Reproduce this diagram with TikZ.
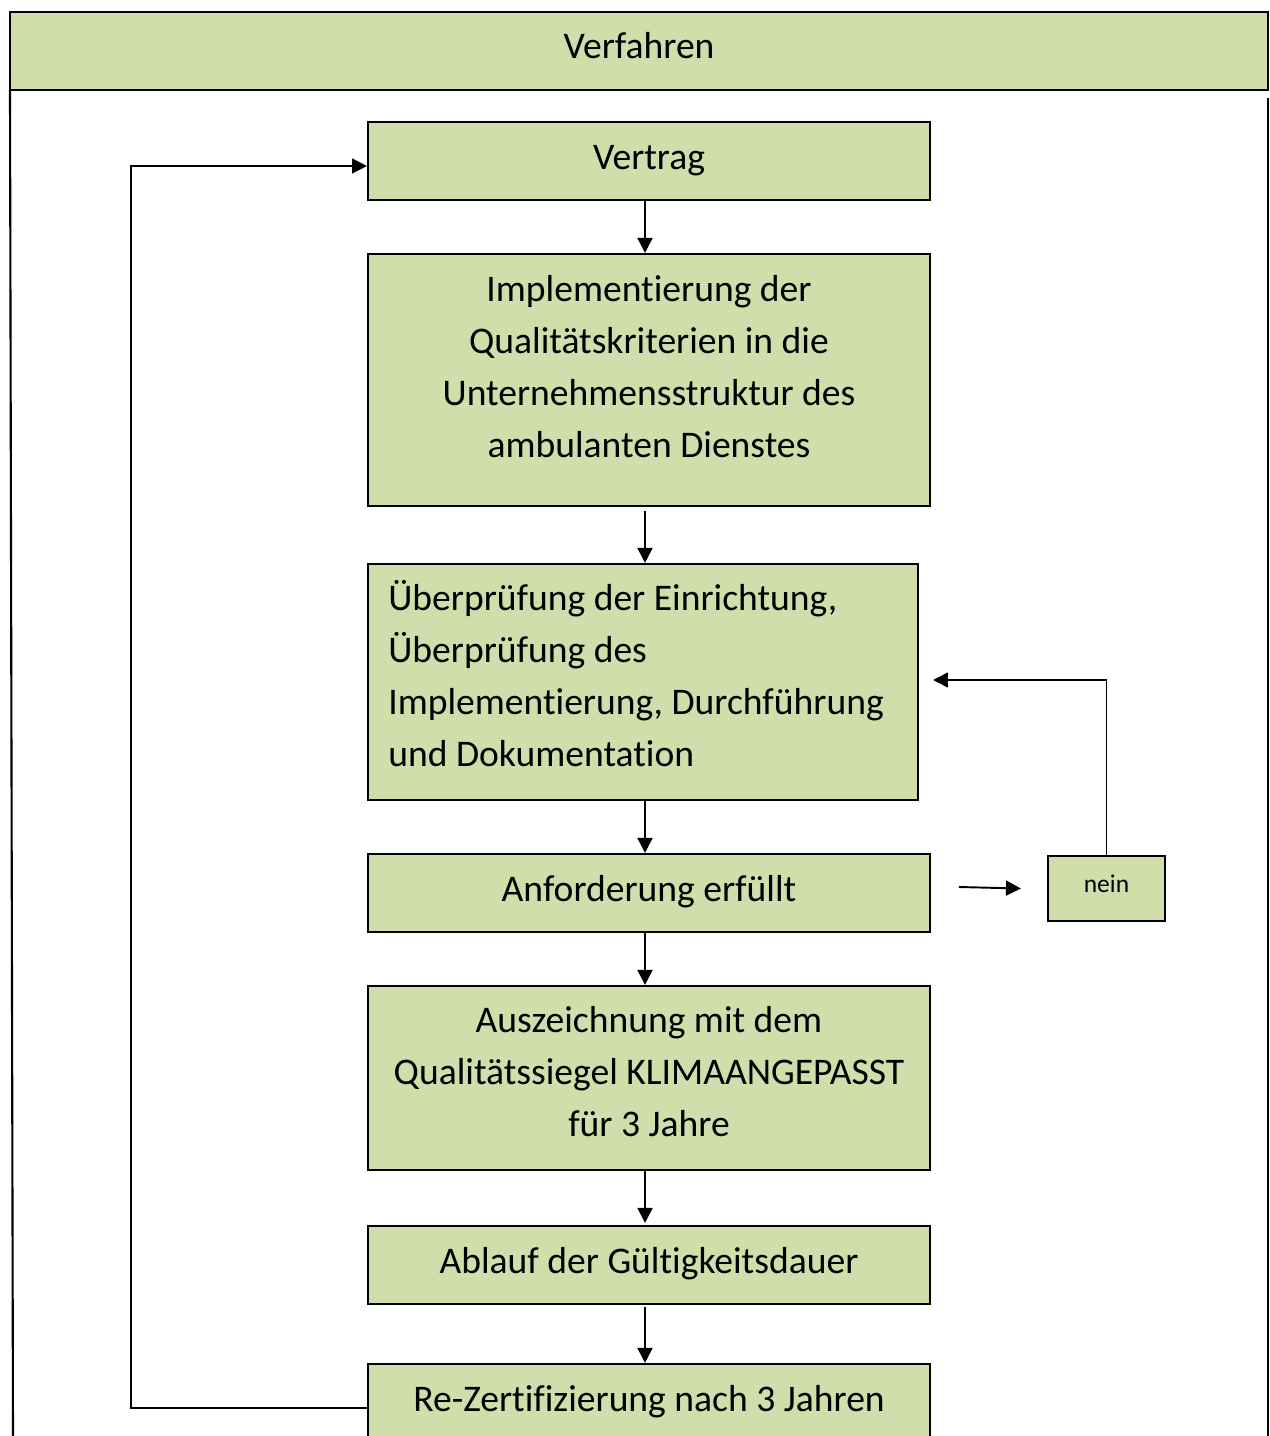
\documentclass[tikz,border=0pt]{standalone}
\usepackage{fontspec}
\setmainfont{Carlito}[Ligatures={NoCommon}]
\usetikzlibrary{arrows.meta}
\definecolor{boxgreen}{HTML}{D0DEAC}
\begin{document}
\begin{tikzpicture}[x=0.02cm,y=-0.02cm,
  box/.style={draw=black, line width=1.25pt, fill=boxgreen, inner sep=0pt},
  txt/.style={inner sep=0pt, font=\fontsize{21.4}{29.6}\selectfont, align=center},
  arr/.style={line width=1.1pt, -{Triangle[length=8.5pt,width=8.5pt]}},
  plain/.style={line width=1.2pt}]
\useasboundingbox (0,0) rectangle (1270,1436);

% header and frame
\node[box, minimum width=25.16cm, minimum height=1.56cm] (head) at (639,51) {};
\node[txt] (head-t) at ([yshift=0.1cm]head.center) {Verfahren};
\draw[plain] (10,90) -- (13,1436);
\draw[plain] (1268,98) -- (1268,1436);

% process steps
\node[box, minimum width=11.24cm, minimum height=1.56cm] (vertrag) at (649,161) {};
\node[txt] (vertrag-t) at ([yshift=0.01cm]vertrag.center) {Vertrag};

\node[box, minimum width=11.24cm, minimum height=5.04cm] (impl) at (649,380) {};
\node[txt] (impl-t) at ([yshift=0.26cm]impl.center)
  {Implementierung der\\Qualitätskriterien in die\\Unternehmensstruktur des\\ambulanten Dienstes};

\node[box, minimum width=11cm, minimum height=4.72cm] (ueber) at (643,682) {};
\node[txt, align=left, anchor=west] (ueber-t) at ([xshift=0.42cm, yshift=0.17cm]ueber.west)
  {Überprüfung der Einrichtung,\\Überprüfung des\\Implementierung, Durchführung\\und Dokumentation};

\node[box, minimum width=11.24cm, minimum height=1.56cm] (anf) at (649,893) {};
\node[txt] (anf-t) at ([yshift=0.02cm]anf.center) {Anforderung erfüllt};

\node[box, minimum width=2.34cm, minimum height=1.3cm] (nein) at (1106.5,888.5) {};
\node[txt, font=\fontsize{14.5}{18}\selectfont] (nein-t) at ([yshift=0.09cm]nein.center) {nein};

\node[box, minimum width=11.24cm, minimum height=3.68cm] (ausz) at (649,1078) {};
\node[txt] (ausz-t) at ([yshift=0.12cm]ausz.center)
  {Auszeichnung mit dem\\Qualitätssiegel KLIMAANGEPASST\\für 3 Jahre};

\node[box, minimum width=11.24cm, minimum height=1.56cm] (ablauf) at (649,1265) {};
\node[txt] (ablauf-t) at ([yshift=0.02cm]ablauf.center) {Ablauf der Gültigkeitsdauer};

\node[box, minimum width=11.24cm, minimum height=1.76cm] (rez) at (649,1408) {};
\node[txt] (rez-t) at ([yshift=0.12cm]rez.center) {Re-Zertifizierung nach 3 Jahren};

% connectors
\coordinate (axis) at (645,0);
\draw[arr] (vertrag.south -| axis) -- (impl.north -| axis);
\draw[arr] ([yshift=-0.08cm]impl.south -| axis) -- (ueber.north -| axis);
\draw[arr] (ueber.south -| axis) -- (anf.north -| axis);
\draw[arr] (anf.south -| axis) -- (ausz.north -| axis);
\draw[arr] (ausz.south -| axis) -- ([yshift=0.04cm]ablauf.north -| axis);
\draw[arr] ([yshift=-0.04cm]ablauf.south -| axis) -- (rez.north -| axis);
\draw[arr] ([xshift=-1.76cm, yshift=0.03cm]nein.west) -- ([xshift=-0.52cm]nein.west);
\draw[arr] (nein.north) |- ([xshift=0.28cm, yshift=0.04cm]ueber.east);
\draw[arr] (rez.west) -- ++(-236,0) |- ([yshift=-0.1cm]vertrag.west);
\end{tikzpicture}
\end{document}
